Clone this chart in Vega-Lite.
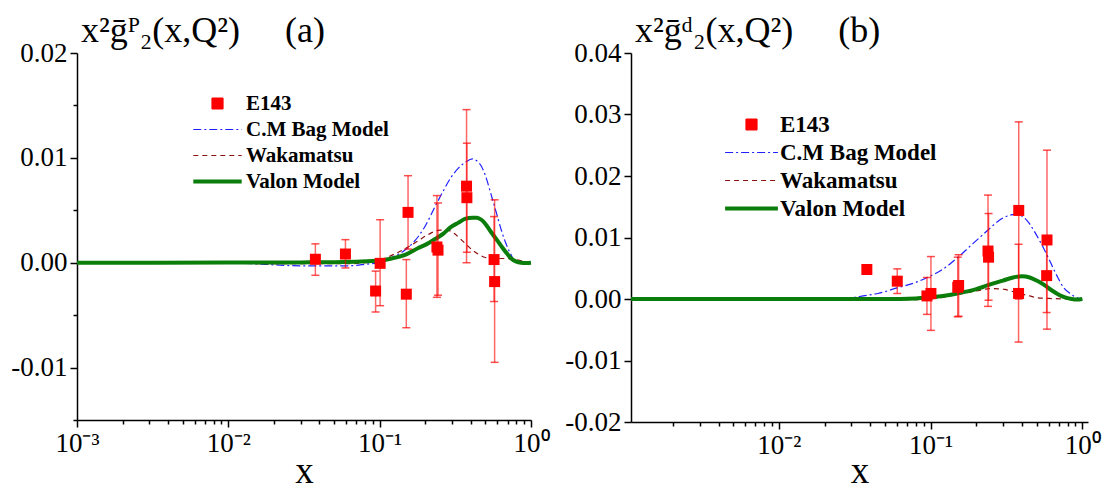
{
  "$schema": "https://vega.github.io/schema/vega-lite/v6.json",
  "background": "white",
  "padding": {"left": 10, "top": 13, "right": 5, "bottom": 0},
  "bounds": "flush",
  "spacing": 100,
  "config": {
    "view": {"stroke": null},
    "font": "Liberation Serif",
    "style": {"guide-label": {"font": "Liberation Serif"}, "guide-title": {"font": "Liberation Serif"}, "group-title": {"font": "Liberation Serif"}},
    "axis": {"domainColor": "black", "domainWidth": 1.5, "tickColor": "black", "tickWidth": 1.5, "labelFont": "Liberation Serif", "labelFontSize": 27, "labelColor": "black", "titleFont": "Liberation Serif", "titleFontSize": 37, "titleFontWeight": "normal", "titleColor": "black", "grid": false, "labelOverlap": false, "labelFlush": false, "labelBound": false},
    "legend": {"labelFont": "Liberation Serif", "titleFont": "Liberation Serif"}
  },
  "datasets": {
    "a_pts": [
      {"series": "E143", "x": 0.0376, "y": 0.00033, "lo": -0.0012, "hi": 0.0018},
      {"series": "E143", "x": 0.0594, "y": 0.00083, "lo": -0.0005, "hi": 0.0022},
      {"series": "E143", "x": 0.094, "y": -0.0027, "lo": -0.0047, "hi": -0.0008},
      {"series": "E143", "x": 0.1007, "y": -0.00006, "lo": -0.0041, "hi": 0.0041},
      {"series": "E143", "x": 0.154, "y": 0.0048, "lo": 0.0013, "hi": 0.0083},
      {"series": "E143", "x": 0.15, "y": -0.003, "lo": -0.0062, "hi": 0.0003},
      {"series": "E143", "x": 0.239, "y": 0.0015, "lo": -0.0033, "hi": 0.0064},
      {"series": "E143", "x": 0.243, "y": 0.0012, "lo": -0.0031, "hi": 0.0057},
      {"series": "E143", "x": 0.375, "y": 0.0073, "lo": 0.0, "hi": 0.0146},
      {"series": "E143", "x": 0.377, "y": 0.0062, "lo": 0.001, "hi": 0.0114},
      {"series": "E143", "x": 0.57, "y": 0.0003, "lo": -0.0037, "hi": 0.0044},
      {"series": "E143", "x": 0.575, "y": -0.0018, "lo": -0.0095, "hi": 0.006}
    ],
    "b_pts": [
      {"series": "E143", "x": 0.038, "y": 0.0048, "lo": 0.0048, "hi": 0.0048},
      {"series": "E143", "x": 0.0603, "y": 0.0029, "lo": 0.0009, "hi": 0.0049},
      {"series": "E143", "x": 0.0946, "y": 0.0005, "lo": -0.0025, "hi": 0.0035},
      {"series": "E143", "x": 0.1005, "y": 0.0009, "lo": -0.0051, "hi": 0.0069},
      {"series": "E143", "x": 0.153, "y": 0.0022, "lo": -0.0028, "hi": 0.0072},
      {"series": "E143", "x": 0.151, "y": 0.0019, "lo": -0.0029, "hi": 0.0068},
      {"series": "E143", "x": 0.239, "y": 0.0078, "lo": -0.0012, "hi": 0.0169},
      {"series": "E143", "x": 0.241, "y": 0.0068, "lo": -0.0002, "hi": 0.0139},
      {"series": "E143", "x": 0.381, "y": 0.0144, "lo": 0.0, "hi": 0.0288},
      {"series": "E143", "x": 0.38, "y": 0.0009, "lo": -0.007, "hi": 0.0089},
      {"series": "E143", "x": 0.585, "y": 0.0096, "lo": -0.0049, "hi": 0.0242},
      {"series": "E143", "x": 0.582, "y": 0.0038, "lo": -0.0022, "hi": 0.0098}
    ],
    "a_curves": [
      {"series": "C.M Bag Model", "x": 0.01, "y": 0.0},
      {"series": "C.M Bag Model", "x": 0.015, "y": -0.0001},
      {"series": "C.M Bag Model", "x": 0.02, "y": -0.0002},
      {"series": "C.M Bag Model", "x": 0.03, "y": -0.0003},
      {"series": "C.M Bag Model", "x": 0.045, "y": -0.0003},
      {"series": "C.M Bag Model", "x": 0.06, "y": -0.0003},
      {"series": "C.M Bag Model", "x": 0.07, "y": -0.00025},
      {"series": "C.M Bag Model", "x": 0.08, "y": -0.00015},
      {"series": "C.M Bag Model", "x": 0.1, "y": 0.0},
      {"series": "C.M Bag Model", "x": 0.12, "y": 0.0005},
      {"series": "C.M Bag Model", "x": 0.15, "y": 0.0013},
      {"series": "C.M Bag Model", "x": 0.18, "y": 0.0025},
      {"series": "C.M Bag Model", "x": 0.2, "y": 0.0035},
      {"series": "C.M Bag Model", "x": 0.235, "y": 0.0055},
      {"series": "C.M Bag Model", "x": 0.26, "y": 0.0067},
      {"series": "C.M Bag Model", "x": 0.295, "y": 0.0081},
      {"series": "C.M Bag Model", "x": 0.33, "y": 0.009},
      {"series": "C.M Bag Model", "x": 0.37, "y": 0.0096},
      {"series": "C.M Bag Model", "x": 0.41, "y": 0.0099},
      {"series": "C.M Bag Model", "x": 0.44, "y": 0.0097},
      {"series": "C.M Bag Model", "x": 0.47, "y": 0.0092},
      {"series": "C.M Bag Model", "x": 0.5, "y": 0.0083},
      {"series": "C.M Bag Model", "x": 0.54, "y": 0.0067},
      {"series": "C.M Bag Model", "x": 0.6, "y": 0.0044},
      {"series": "C.M Bag Model", "x": 0.64, "y": 0.003},
      {"series": "C.M Bag Model", "x": 0.68, "y": 0.0019},
      {"series": "C.M Bag Model", "x": 0.73, "y": 0.0009},
      {"series": "C.M Bag Model", "x": 0.77, "y": 0.0003},
      {"series": "C.M Bag Model", "x": 0.85, "y": 0.0001},
      {"series": "C.M Bag Model", "x": 0.92, "y": 0.0},
      {"series": "C.M Bag Model", "x": 1.0, "y": 0.0},
      {"series": "Wakamatsu", "x": 0.01, "y": 0.0},
      {"series": "Wakamatsu", "x": 0.02, "y": -0.0001},
      {"series": "Wakamatsu", "x": 0.04, "y": -0.0001},
      {"series": "Wakamatsu", "x": 0.06, "y": -0.0001},
      {"series": "Wakamatsu", "x": 0.08, "y": 0.0},
      {"series": "Wakamatsu", "x": 0.1, "y": 0.0002},
      {"series": "Wakamatsu", "x": 0.12, "y": 0.0007},
      {"series": "Wakamatsu", "x": 0.15, "y": 0.0014},
      {"series": "Wakamatsu", "x": 0.18, "y": 0.0021},
      {"series": "Wakamatsu", "x": 0.21, "y": 0.0027},
      {"series": "Wakamatsu", "x": 0.25, "y": 0.0031},
      {"series": "Wakamatsu", "x": 0.28, "y": 0.0031},
      {"series": "Wakamatsu", "x": 0.31, "y": 0.0028},
      {"series": "Wakamatsu", "x": 0.34, "y": 0.0023},
      {"series": "Wakamatsu", "x": 0.37, "y": 0.0018},
      {"series": "Wakamatsu", "x": 0.41, "y": 0.0012},
      {"series": "Wakamatsu", "x": 0.45, "y": 0.0008},
      {"series": "Wakamatsu", "x": 0.5, "y": 0.0005},
      {"series": "Wakamatsu", "x": 0.6, "y": 0.0004},
      {"series": "Wakamatsu", "x": 0.7, "y": 0.0004},
      {"series": "Wakamatsu", "x": 0.8, "y": 0.0003},
      {"series": "Wakamatsu", "x": 0.9, "y": 0.0001},
      {"series": "Wakamatsu", "x": 1.0, "y": 0.0},
      {"series": "Valon Model", "x": 0.001, "y": 0.0},
      {"series": "Valon Model", "x": 0.01, "y": 0.00001},
      {"series": "Valon Model", "x": 0.03, "y": 0.00003},
      {"series": "Valon Model", "x": 0.05, "y": 0.00005},
      {"series": "Valon Model", "x": 0.07, "y": 0.0001},
      {"series": "Valon Model", "x": 0.1, "y": 0.0002},
      {"series": "Valon Model", "x": 0.12, "y": 0.0004},
      {"series": "Valon Model", "x": 0.15, "y": 0.0008},
      {"series": "Valon Model", "x": 0.18, "y": 0.0014},
      {"series": "Valon Model", "x": 0.2, "y": 0.0017},
      {"series": "Valon Model", "x": 0.235, "y": 0.0023},
      {"series": "Valon Model", "x": 0.265, "y": 0.0028},
      {"series": "Valon Model", "x": 0.295, "y": 0.0034},
      {"series": "Valon Model", "x": 0.33, "y": 0.0038},
      {"series": "Valon Model", "x": 0.37, "y": 0.0042},
      {"series": "Valon Model", "x": 0.41, "y": 0.0043},
      {"series": "Valon Model", "x": 0.44, "y": 0.0043},
      {"series": "Valon Model", "x": 0.47, "y": 0.0041},
      {"series": "Valon Model", "x": 0.5, "y": 0.0037},
      {"series": "Valon Model", "x": 0.54, "y": 0.003},
      {"series": "Valon Model", "x": 0.6, "y": 0.0021},
      {"series": "Valon Model", "x": 0.65, "y": 0.0014},
      {"series": "Valon Model", "x": 0.7, "y": 0.0008},
      {"series": "Valon Model", "x": 0.74, "y": 0.0004},
      {"series": "Valon Model", "x": 0.8, "y": 0.0001},
      {"series": "Valon Model", "x": 0.86, "y": 0.0},
      {"series": "Valon Model", "x": 0.93, "y": -0.00003},
      {"series": "Valon Model", "x": 1.0, "y": 0.0}
    ],
    "b_curves": [
      {"series": "C.M Bag Model", "x": 0.01, "y": 0.0},
      {"series": "C.M Bag Model", "x": 0.02, "y": 0.0},
      {"series": "C.M Bag Model", "x": 0.03, "y": 0.0002},
      {"series": "C.M Bag Model", "x": 0.036, "y": 0.0005},
      {"series": "C.M Bag Model", "x": 0.045, "y": 0.0009},
      {"series": "C.M Bag Model", "x": 0.06, "y": 0.0018},
      {"series": "C.M Bag Model", "x": 0.08, "y": 0.0027},
      {"series": "C.M Bag Model", "x": 0.095, "y": 0.0035},
      {"series": "C.M Bag Model", "x": 0.12, "y": 0.0048},
      {"series": "C.M Bag Model", "x": 0.15, "y": 0.0067},
      {"series": "C.M Bag Model", "x": 0.19, "y": 0.009},
      {"series": "C.M Bag Model", "x": 0.236, "y": 0.0111},
      {"series": "C.M Bag Model", "x": 0.28, "y": 0.0127},
      {"series": "C.M Bag Model", "x": 0.33, "y": 0.0136},
      {"series": "C.M Bag Model", "x": 0.37, "y": 0.0138},
      {"series": "C.M Bag Model", "x": 0.41, "y": 0.0133},
      {"series": "C.M Bag Model", "x": 0.45, "y": 0.0122},
      {"series": "C.M Bag Model", "x": 0.48, "y": 0.0111},
      {"series": "C.M Bag Model", "x": 0.52, "y": 0.0096},
      {"series": "C.M Bag Model", "x": 0.56, "y": 0.0081},
      {"series": "C.M Bag Model", "x": 0.6, "y": 0.0066},
      {"series": "C.M Bag Model", "x": 0.64, "y": 0.0051},
      {"series": "C.M Bag Model", "x": 0.68, "y": 0.0038},
      {"series": "C.M Bag Model", "x": 0.75, "y": 0.0019},
      {"series": "C.M Bag Model", "x": 0.84, "y": 0.0008},
      {"series": "C.M Bag Model", "x": 0.95, "y": 0.0001},
      {"series": "C.M Bag Model", "x": 1.0, "y": 0.0},
      {"series": "Wakamatsu", "x": 0.01, "y": 0.0},
      {"series": "Wakamatsu", "x": 0.02, "y": -0.0001},
      {"series": "Wakamatsu", "x": 0.05, "y": -0.0001},
      {"series": "Wakamatsu", "x": 0.08, "y": -0.0001},
      {"series": "Wakamatsu", "x": 0.1, "y": 0.0},
      {"series": "Wakamatsu", "x": 0.15, "y": 0.0007},
      {"series": "Wakamatsu", "x": 0.2, "y": 0.0013},
      {"series": "Wakamatsu", "x": 0.25, "y": 0.0017},
      {"series": "Wakamatsu", "x": 0.3, "y": 0.0016},
      {"series": "Wakamatsu", "x": 0.35, "y": 0.0012},
      {"series": "Wakamatsu", "x": 0.4, "y": 0.0008},
      {"series": "Wakamatsu", "x": 0.45, "y": 0.0005},
      {"series": "Wakamatsu", "x": 0.5, "y": 0.0002},
      {"series": "Wakamatsu", "x": 0.6, "y": 0.0001},
      {"series": "Wakamatsu", "x": 0.8, "y": 0.0},
      {"series": "Wakamatsu", "x": 1.0, "y": 0.0},
      {"series": "Valon Model", "x": 0.00106, "y": 0.0},
      {"series": "Valon Model", "x": 0.05, "y": 0.0},
      {"series": "Valon Model", "x": 0.08, "y": 0.0001},
      {"series": "Valon Model", "x": 0.1, "y": 0.0003},
      {"series": "Valon Model", "x": 0.12, "y": 0.0005},
      {"series": "Valon Model", "x": 0.15, "y": 0.0009},
      {"series": "Valon Model", "x": 0.2, "y": 0.0016},
      {"series": "Valon Model", "x": 0.236, "y": 0.0022},
      {"series": "Valon Model", "x": 0.3, "y": 0.003},
      {"series": "Valon Model", "x": 0.35, "y": 0.0035},
      {"series": "Valon Model", "x": 0.4, "y": 0.0037},
      {"series": "Valon Model", "x": 0.45, "y": 0.0035},
      {"series": "Valon Model", "x": 0.5, "y": 0.003},
      {"series": "Valon Model", "x": 0.56, "y": 0.0023},
      {"series": "Valon Model", "x": 0.62, "y": 0.0015},
      {"series": "Valon Model", "x": 0.7, "y": 0.0007},
      {"series": "Valon Model", "x": 0.76, "y": 0.0003},
      {"series": "Valon Model", "x": 0.85, "y": 0.0},
      {"series": "Valon Model", "x": 0.92, "y": -0.0001},
      {"series": "Valon Model", "x": 1.0, "y": 0.0}
    ]
  },
  "hconcat": [
    {
      "width": 454,
      "height": 367,
      "title": {"text": "x\u00b2\u1e21\u1d3e\u2082(x,Q\u00b2)\u00a0\u00a0\u00a0\u00a0\u00a0(a)", "anchor": "start", "frame": "group", "font": "Liberation Serif", "fontSize": 36, "fontWeight": "normal", "color": "black", "offset": -11, "dx": 4},
      "encoding": {
        "x": {"field": "x", "type": "quantitative", "scale": {"type": "log", "domain": [0.001, 1], "nice": false},
          "axis": {"title": "x", "titlePadding": -3, "labelFont": "Liberation Serif", "titleFont": "Liberation Serif", "values": [0.001,0.002,0.003,0.004,0.005,0.006,0.007,0.008,0.009,0.01,0.02,0.03,0.04,0.05,0.06,0.07,0.08,0.09,0.1,0.2,0.3,0.4,0.5,0.6,0.7,0.8,0.9,1],
            "labelExpr": "datum.value == 0.001 ? '10\u207b\u00b3' : datum.value == 0.01 ? '10\u207b\u00b2' : datum.value == 0.1 ? '10\u207b\u00b9' : datum.value == 1 ? '10\u2070' : ''",
            "tickSize": {"condition": {"test": "datum.value == 0.001 || datum.value == 0.01 || datum.value == 0.1 || datum.value == 1", "value": 7}, "value": 4},
            "labelPadding": 3}}
      },
      "layer": [
        {
          "data": {"name": "a_curves"},
          "transform": [{"filter": "datum.series === 'C.M Bag Model'"}],
          "mark": {"type": "line", "strokeWidth": 1.2, "strokeDash": [8, 3, 2, 3], "interpolate": "monotone"},
          "encoding": {
            "y": {"field": "y", "type": "quantitative", "scale": {"domain": [-0.015, 0.02], "nice": false, "zero": false},
              "axis": {"title": null, "labelFont": "Liberation Serif", "values": [-0.015,-0.01,-0.005,0,0.005,0.01,0.015,0.02],
                "labelExpr": "abs(datum.value*100 - round(datum.value*100)) < 0.001 ? (datum.value < -0.0001 ? '-' : '') + format(abs(datum.value), '.2f') : ''",
                "tickSize": {"condition": {"test": "abs(datum.value*100 - round(datum.value*100)) < 0.001", "value": 7}, "value": 4},
                "labelPadding": 3}},
            "color": {"field": "series", "type": "nominal",
              "scale": {"domain": ["E143", "C.M Bag Model", "Wakamatsu", "Valon Model"], "range": ["#ff0000", "#2020ff", "#8b1010", "#0a7d0a"]},
              "legend": {"orient": "none", "legendX": 130, "legendY": 40, "title": null, "padding": 0,
                "labelFont": "Liberation Serif", "labelFontWeight": "bold", "labelFontSize": 21, "labelColor": "black",
                "labelOffset": 18, "rowPadding": 4, "labelLimit": 400, "symbolSize": 121,
                "encode": {"symbols": {"update": {
                  "shape": {"signal": "datum.value === 'E143' ? 'square' : 'M-4.4,0H4.4'"},
                  "size": {"value": 121},
                  "fill": {"signal": "datum.value === 'E143' ? '#ff0000' : 'transparent'"},
                  "stroke": {"signal": "datum.value === 'E143' ? 'transparent' : datum.value === 'C.M Bag Model' ? '#2020ff' : datum.value === 'Wakamatsu' ? '#8b1010' : '#0a7d0a'"},
                  "strokeWidth": {"signal": "datum.value === 'Valon Model' ? 4 : 1.2"},
                  "strokeDash": {"signal": "datum.value === 'C.M Bag Model' ? [8,3,2,3] : datum.value === 'Wakamatsu' ? [5,4] : [1,0]"},
                  "opacity": {"value": 1}
                }}, "labels": {"update": {"font": {"value": "Liberation Serif"}}}}}}
          }
        },
        {
          "data": {"name": "a_curves"},
          "transform": [{"filter": "datum.series === 'Wakamatsu'"}],
          "mark": {"type": "line", "strokeWidth": 1.2, "strokeDash": [5, 4], "interpolate": "monotone"},
          "encoding": {
            "y": {"field": "y", "type": "quantitative", "scale": {"domain": [-0.015, 0.02], "nice": false, "zero": false}},
            "color": {"field": "series", "type": "nominal", "scale": {"domain": ["E143", "C.M Bag Model", "Wakamatsu", "Valon Model"], "range": ["#ff0000", "#2020ff", "#8b1010", "#0a7d0a"]}}
          }
        },
        {
          "data": {"name": "a_curves"},
          "transform": [{"filter": "datum.series === 'Valon Model'"}],
          "mark": {"type": "line", "strokeWidth": 4, "interpolate": "monotone"},
          "encoding": {
            "y": {"field": "y", "type": "quantitative", "scale": {"domain": [-0.015, 0.02], "nice": false, "zero": false}},
            "color": {"field": "series", "type": "nominal", "scale": {"domain": ["E143", "C.M Bag Model", "Wakamatsu", "Valon Model"], "range": ["#ff0000", "#2020ff", "#8b1010", "#0a7d0a"]}}
          }
        },
        {
          "data": {"name": "a_pts"},
          "mark": {"type": "rule", "color": "#ff0000", "opacity": 0.6, "strokeWidth": 1.5},
          "encoding": {
            "y": {"field": "lo", "type": "quantitative", "scale": {"domain": [-0.015, 0.02], "nice": false, "zero": false}, "axis": {"title": null}},
            "y2": {"field": "hi"}
          }
        },
        {
          "data": {"name": "a_pts"},
          "mark": {"type": "tick", "orient": "horizontal", "size": 8, "thickness": 1.5, "color": "#ff0000", "opacity": 0.7},
          "encoding": {"y": {"field": "lo", "type": "quantitative", "scale": {"domain": [-0.015, 0.02], "nice": false, "zero": false}, "axis": {"title": null}}}
        },
        {
          "data": {"name": "a_pts"},
          "mark": {"type": "tick", "orient": "horizontal", "size": 8, "thickness": 1.5, "color": "#ff0000", "opacity": 0.7},
          "encoding": {"y": {"field": "hi", "type": "quantitative", "scale": {"domain": [-0.015, 0.02], "nice": false, "zero": false}, "axis": {"title": null}}}
        },
        {
          "data": {"name": "a_pts"},
          "mark": {"type": "point", "shape": "square", "filled": true, "size": 121, "opacity": 1},
          "encoding": {
            "y": {"field": "y", "type": "quantitative", "scale": {"domain": [-0.015, 0.02], "nice": false, "zero": false}},
            "color": {"field": "series", "type": "nominal", "scale": {"domain": ["E143", "C.M Bag Model", "Wakamatsu", "Valon Model"], "range": ["#ff0000", "#2020ff", "#8b1010", "#0a7d0a"]}}
          }
        }
      ]
    },
    {
      "width": 457,
      "height": 369,
      "title": {"text": "x\u00b2\u1e21\u1d48\u2082(x,Q\u00b2)\u00a0\u00a0\u00a0\u00a0\u00a0(b)", "anchor": "start", "frame": "group", "font": "Liberation Serif", "fontSize": 36, "fontWeight": "normal", "color": "black", "offset": -11, "dx": 4},
      "encoding": {
        "x": {"field": "x", "type": "quantitative", "scale": {"type": "log", "domain": [0.00106, 1.09], "nice": false},
          "axis": {"title": "x", "titlePadding": -5, "labelFont": "Liberation Serif", "titleFont": "Liberation Serif", "values": [0.002,0.003,0.004,0.005,0.006,0.007,0.008,0.009,0.01,0.02,0.03,0.04,0.05,0.06,0.07,0.08,0.09,0.1,0.2,0.3,0.4,0.5,0.6,0.7,0.8,0.9,1],
            "labelExpr": "datum.value == 0.01 ? '10\u207b\u00b2' : datum.value == 0.1 ? '10\u207b\u00b9' : datum.value == 1 ? '10\u2070' : ''",
            "tickSize": {"condition": {"test": "datum.value == 0.01 || datum.value == 0.1 || datum.value == 1", "value": 7}, "value": 4},
            "labelPadding": 3}}
      },
      "layer": [
        {
          "data": {"name": "b_curves"},
          "transform": [{"filter": "datum.series === 'C.M Bag Model'"}],
          "mark": {"type": "line", "strokeWidth": 1.2, "strokeDash": [8, 3, 2, 3], "interpolate": "monotone"},
          "encoding": {
            "y": {"field": "y", "type": "quantitative", "scale": {"domain": [-0.02, 0.04], "nice": false, "zero": false},
              "axis": {"title": null, "labelFont": "Liberation Serif", "values": [-0.02,-0.015,-0.01,-0.005,0,0.005,0.01,0.015,0.02,0.025,0.03,0.035,0.04],
                "labelExpr": "abs(datum.value*100 - round(datum.value*100)) < 0.001 ? (datum.value < -0.0001 ? '-' : '') + format(abs(datum.value), '.2f') : ''",
                "tickSize": {"condition": {"test": "abs(datum.value*100 - round(datum.value*100)) < 0.001", "value": 7}, "value": 4},
                "labelPadding": 3}},
            "color": {"field": "series", "type": "nominal",
              "scale": {"domain": ["E143", "C.M Bag Model", "Wakamatsu", "Valon Model"], "range": ["#ff0000", "#2020ff", "#8b1010", "#0a7d0a"]},
              "legend": {"orient": "none", "legendX": 109, "legendY": 60, "title": null, "padding": 0,
                "labelFont": "Liberation Serif", "labelFontWeight": "bold", "labelFontSize": 23, "labelColor": "black",
                "labelOffset": 17, "rowPadding": 4, "labelLimit": 400, "symbolSize": 121,
                "encode": {"symbols": {"update": {
                  "shape": {"signal": "datum.value === 'E143' ? 'square' : 'M-4.8,0H4.8'"},
                  "size": {"value": 121},
                  "fill": {"signal": "datum.value === 'E143' ? '#ff0000' : 'transparent'"},
                  "stroke": {"signal": "datum.value === 'E143' ? 'transparent' : datum.value === 'C.M Bag Model' ? '#2020ff' : datum.value === 'Wakamatsu' ? '#8b1010' : '#0a7d0a'"},
                  "strokeWidth": {"signal": "datum.value === 'Valon Model' ? 4 : 1.2"},
                  "strokeDash": {"signal": "datum.value === 'C.M Bag Model' ? [8,3,2,3] : datum.value === 'Wakamatsu' ? [5,4] : [1,0]"},
                  "opacity": {"value": 1}
                }}, "labels": {"update": {"font": {"value": "Liberation Serif"}}}}}}
          }
        },
        {
          "data": {"name": "b_curves"},
          "transform": [{"filter": "datum.series === 'Wakamatsu'"}],
          "mark": {"type": "line", "strokeWidth": 1.2, "strokeDash": [5, 4], "interpolate": "monotone"},
          "encoding": {
            "y": {"field": "y", "type": "quantitative", "scale": {"domain": [-0.02, 0.04], "nice": false, "zero": false}},
            "color": {"field": "series", "type": "nominal", "scale": {"domain": ["E143", "C.M Bag Model", "Wakamatsu", "Valon Model"], "range": ["#ff0000", "#2020ff", "#8b1010", "#0a7d0a"]}}
          }
        },
        {
          "data": {"name": "b_curves"},
          "transform": [{"filter": "datum.series === 'Valon Model'"}],
          "mark": {"type": "line", "strokeWidth": 4, "interpolate": "monotone"},
          "encoding": {
            "y": {"field": "y", "type": "quantitative", "scale": {"domain": [-0.02, 0.04], "nice": false, "zero": false}},
            "color": {"field": "series", "type": "nominal", "scale": {"domain": ["E143", "C.M Bag Model", "Wakamatsu", "Valon Model"], "range": ["#ff0000", "#2020ff", "#8b1010", "#0a7d0a"]}}
          }
        },
        {
          "data": {"name": "b_pts"},
          "mark": {"type": "rule", "color": "#ff0000", "opacity": 0.6, "strokeWidth": 1.5},
          "encoding": {
            "y": {"field": "lo", "type": "quantitative", "scale": {"domain": [-0.02, 0.04], "nice": false, "zero": false}, "axis": {"title": null}},
            "y2": {"field": "hi"}
          }
        },
        {
          "data": {"name": "b_pts"},
          "mark": {"type": "tick", "orient": "horizontal", "size": 8, "thickness": 1.5, "color": "#ff0000", "opacity": 0.7},
          "encoding": {"y": {"field": "lo", "type": "quantitative", "scale": {"domain": [-0.02, 0.04], "nice": false, "zero": false}, "axis": {"title": null}}}
        },
        {
          "data": {"name": "b_pts"},
          "mark": {"type": "tick", "orient": "horizontal", "size": 8, "thickness": 1.5, "color": "#ff0000", "opacity": 0.7},
          "encoding": {"y": {"field": "hi", "type": "quantitative", "scale": {"domain": [-0.02, 0.04], "nice": false, "zero": false}, "axis": {"title": null}}}
        },
        {
          "data": {"name": "b_pts"},
          "mark": {"type": "point", "shape": "square", "filled": true, "size": 121, "opacity": 1},
          "encoding": {
            "y": {"field": "y", "type": "quantitative", "scale": {"domain": [-0.02, 0.04], "nice": false, "zero": false}},
            "color": {"field": "series", "type": "nominal", "scale": {"domain": ["E143", "C.M Bag Model", "Wakamatsu", "Valon Model"], "range": ["#ff0000", "#2020ff", "#8b1010", "#0a7d0a"]}}
          }
        }
      ]
    }
  ],
  "resolve": {"scale": {"x": "independent", "y": "independent", "color": "independent"}, "legend": {"color": "independent"}}
}
